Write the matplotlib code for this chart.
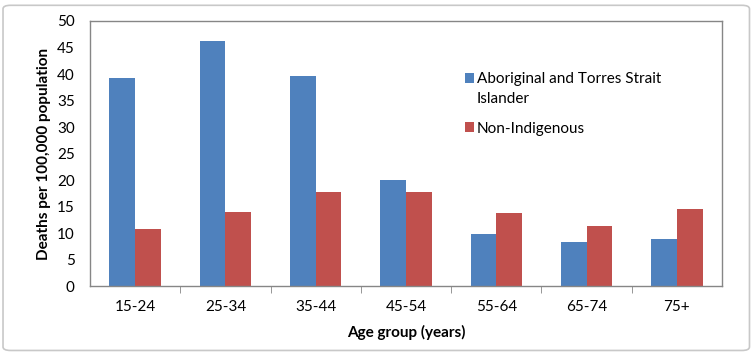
import numpy as np
import matplotlib.pyplot as plt
from matplotlib.patches import FancyBboxPatch

plt.rcParams['font.family'] = ['Lato', 'DejaVu Sans']

age_groups = ['15-24', '25-34', '35-44', '45-54', '55-64', '65-74', '75+']
indigenous = [39.2, 46.2, 39.6, 20.0, 9.8, 8.3, 8.9]
non_indigenous = [10.8, 14.0, 17.7, 17.7, 13.8, 11.3, 14.5]

blue = '#4f81bd'
red = '#c0504d'

fig = plt.figure(figsize=(7.54, 3.54), dpi=100)
# chart border (rounded, like the Excel chart frame)
fig.patches.append(FancyBboxPatch((0.004, 0.01), 0.99, 0.975, boxstyle='round,pad=0,rounding_size=0.01',
                                  transform=fig.transFigure, facecolor='none',
                                  edgecolor='#c8c8c8', linewidth=1.2))

ax = fig.add_axes([0.1194, 0.192, 0.8382, 0.7487])
x = np.arange(len(age_groups))
w = 0.285
ax.bar(x - w / 2, indigenous, w, color=blue, label='Aboriginal and Torres Strait')
ax.bar(x + w / 2, non_indigenous, w, color=red, label='Non-Indigenous')

ax.set_xlim(-0.5, len(age_groups) - 0.5)
ax.set_ylim(0, 50)
ax.set_yticks(range(0, 51, 5))
ax.set_xticks(x)
ax.set_xticklabels(age_groups)
ax.set_xticks(np.arange(0.5, len(age_groups) - 1, 1), minor=True)
ax.tick_params(axis='x', which='major', length=0, pad=10, labelsize=11)
ax.tick_params(axis='x', which='minor', length=5, color='#868686', direction='out')
ax.tick_params(axis='y', length=0, pad=11, labelsize=11)
for s in ax.spines.values():
    s.set_color('#868686')
    s.set_linewidth(1.0)

ax.set_xlabel('Age group (years)', fontweight='bold', fontsize=11, labelpad=8)
ax.set_ylabel('Deaths per 100,000 population', fontweight='bold', fontsize=11, labelpad=4)

leg = ax.legend(loc='upper left', bbox_to_anchor=(0.582, 0.835), frameon=False, fontsize=11,
                borderpad=0, handlelength=0.55, handleheight=0.55, handletextpad=0.2,
                labelspacing=2.3)

# second line of the first legend entry, placed under the first line
fig.canvas.draw()
bb = leg.get_texts()[0].get_window_extent().transformed(fig.transFigure.inverted())
fig.text(bb.x0, bb.y0 - 20 / 354, 'Islander', fontsize=11, ha='left', va='bottom')

fig.savefig('out.png', dpi=100)
